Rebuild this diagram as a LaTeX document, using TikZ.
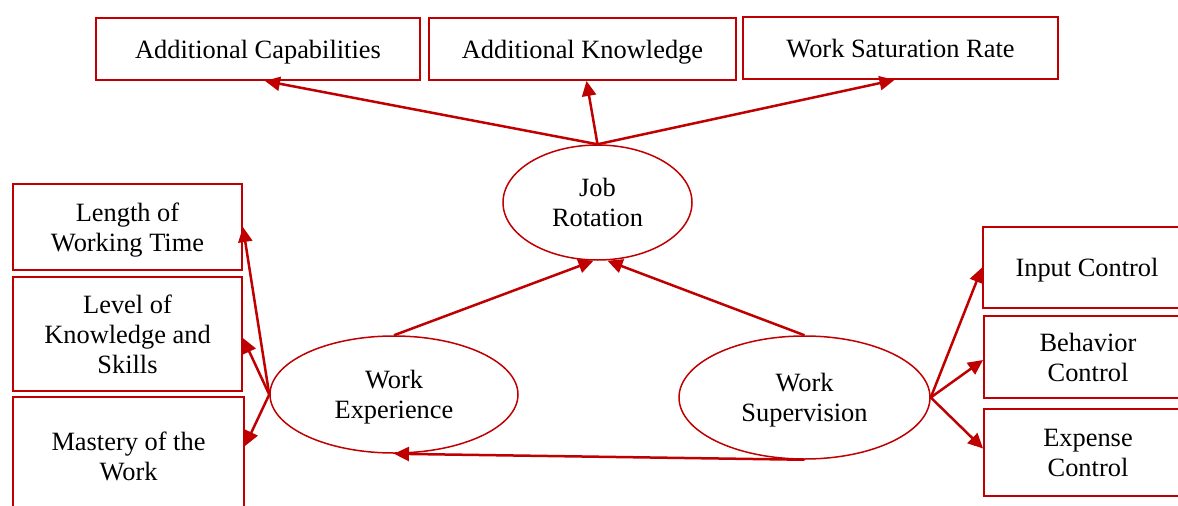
\documentclass[tikz,border=0pt]{standalone}
\usepackage{fontspec}
\setmainfont{Liberation Serif}
\usetikzlibrary{shapes.geometric,arrows.meta,calc}
\definecolor{linkred}{RGB}{192,0,0}
\begin{document}
\begin{tikzpicture}[x=1pt,y=-1pt,
  every node/.style={font=\fontsize{26.4}{30}\selectfont, text=black, align=center, inner sep=0pt, text depth=0pt},
  factor/.style={draw=linkred, line width=1.9pt, rectangle},
  construct/.style={draw=linkred, line width=1.5pt, ellipse},
  link/.style={draw=linkred, line width=2.5pt, -{Triangle[length=15pt,width=14pt]}}]
\useasboundingbox (0,0) rectangle (1178,506);
\clip (0,0) rectangle (1178,506);

% indicator boxes along the top
\node[factor, minimum width=324pt, minimum height=62pt] (AC)  at (258,49)   {Additional Capabilities};
\node[factor, minimum width=307pt, minimum height=62pt] (AK)  at (582.5,49) {Additional Knowledge};
\node[factor, minimum width=315pt, minimum height=62pt] (WSR) at (900.5,48) {Work Saturation Rate};

% indicator boxes on the left
\node[factor, minimum width=229pt, minimum height=86pt]  (LWT) at (127.5,227) {Length of\\Working Time};
\node[factor, minimum width=229pt, minimum height=114pt] (LKS) at (127.5,334) {Level of\\Knowledge and\\Skills};
\node[factor, minimum width=231pt, minimum height=118pt] (MW)  at (128.5,456) {Mastery of the\\Work};

% indicator boxes on the right
\node[factor, minimum width=208pt, minimum height=81pt] (IC) at (1087,267.5) {Input Control};
\node[factor, minimum width=208pt, minimum height=82pt] (BC) at (1088,357)   {Behavior\\Control};
\node[factor, minimum width=208pt, minimum height=87pt] (EC) at (1088,452.5) {Expense\\Control};

% latent constructs
\node[construct, minimum width=189pt, minimum height=115pt] (JR) at (597.5,202.5) {Job\\Rotation};
\node[construct, minimum width=248pt, minimum height=117pt] (WE) at (394,394.5)   {Work\\Experience};
\node[construct, minimum width=251pt, minimum height=123pt] (WS) at (804.5,397.5) {Work\\Supervision};

% Job Rotation -> its indicators
\draw[link] (JR.north) -- ($(AC.south)+(7,0)$);
\draw[link] (JR.north) -- ($(AK.south)+(4,0)$);
\draw[link] (JR.north) -- ($(WSR.south)+(-6,0)$);

% Work Experience -> its indicators
\draw[link] (WE.west) -- (LWT.east);
\draw[link] (WE.west) -- ($(LKS.east)+(0,4)$);
\draw[link] (WE.west) -- ($(MW.north east)+(0,50)$);

% Work Supervision -> its indicators
\draw[link] (WS.east) -- (IC.west);
\draw[link] (WS.east) -- ($(BC.west)+(0,3)$);
\draw[link] (WS.east) -- ($(EC.west)+(0,-4)$);

% paths between constructs
\draw[link] (WE.north) -- ($(JR.south)+(-4,0)$);
\draw[link] (WS.north) -- ($(JR.south)+(10,0)$);
\draw[link] (WS.south) -- (WE.south);
\end{tikzpicture}
\end{document}
